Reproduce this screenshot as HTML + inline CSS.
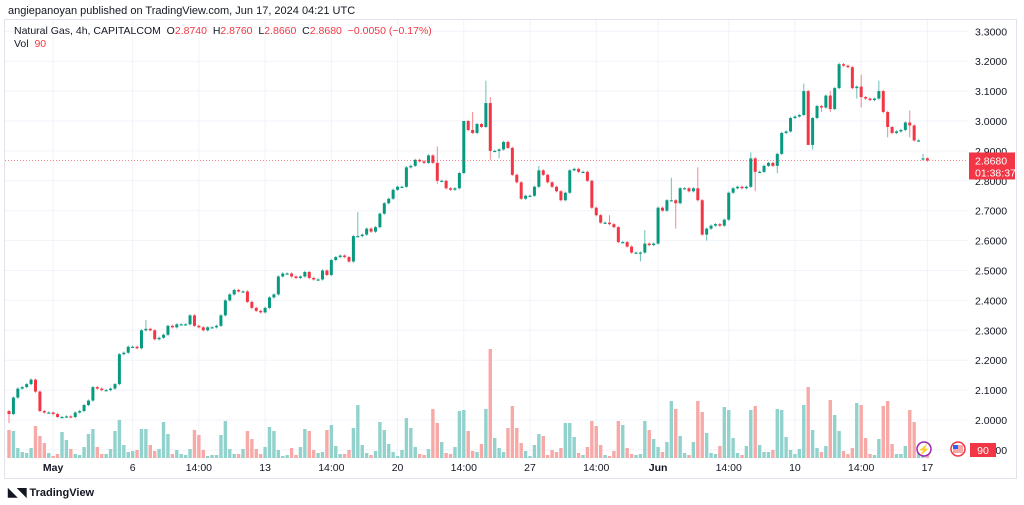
<!DOCTYPE html>
<html><head><meta charset="utf-8"><style>
body{margin:0;width:1024px;height:505px;background:#fff;overflow:hidden;font-family:"Liberation Sans",sans-serif;}
#wrap{position:relative;width:1024px;height:505px;}
.t{position:absolute;white-space:nowrap;}
</style></head><body><div id="wrap">
<div class="t" style="left:8px;top:5px;font-size:11px;color:#131722">angiepanoyan published on TradingView.com, Jun 17, 2024 04:21 UTC</div>
<svg id="chart" width="1024" height="505" style="position:absolute;left:0;top:0"></svg>
<div class="t" style="left:14px;top:25px;font-size:10.5px;color:#131722;background:rgba(255,255,255,0.7)">Natural Gas, 4h, CAPITALCOM&nbsp; O<span style="color:#f23645">2.8740</span>&nbsp; H<span style="color:#f23645">2.8760</span>&nbsp; L<span style="color:#f23645">2.8660</span>&nbsp; C<span style="color:#f23645">2.8680</span>&nbsp; <span style="color:#f23645">−0.0050 (−0.17%)</span></div>
<div class="t" style="left:14px;top:38px;font-size:10.5px;color:#131722">Vol&nbsp; <span style="color:#f23645">90</span></div>
<div class="t" style="left:8px;top:485px;font-size:11px;color:#131722;font-weight:bold"><span style="font-size:12px">◣◥</span> TradingView</div>
</div>
<script>
const closes=[2.02,2.075,2.105,2.11,2.12,2.135,2.095,2.03,2.025,2.025,2.02,2.01,2.01,2.012,2.01,2.025,2.03,2.05,2.065,2.11,2.105,2.10,2.10,2.105,2.12,2.22,
2.225,2.245,2.245,2.24,2.30,2.305,2.30,2.27,2.275,2.285,2.315,2.31,2.32,2.32,2.32,2.35,2.315,2.31,2.30,2.31,2.31,2.315,2.35,
2.40,2.42,2.435,2.43,2.43,2.395,2.375,2.365,2.36,2.375,2.41,2.42,2.48,2.49,2.49,2.48,2.475,2.48,2.495,2.475,2.47,2.47,2.50,2.485,2.535,
2.545,2.55,2.545,2.53,2.615,2.615,2.62,2.64,2.63,2.645,2.69,2.725,2.74,2.77,2.78,2.78,2.845,2.85,2.87,2.865,2.86,2.885,2.86,2.80,2.80,2.775,2.77,2.775,2.826,3.00,
2.97,2.96,2.99,2.98,3.06,2.90,2.90,2.905,2.93,2.91,2.82,2.795,2.74,2.75,2.75,2.78,2.835,2.82,2.795,2.78,2.765,2.735,2.76,2.835,2.84,2.83,2.83,2.80,2.71,2.685,2.66,2.66,2.655,2.645,2.595,2.595,2.58,2.56,2.56,2.56,2.59,
2.585,2.59,2.71,2.70,2.735,2.735,2.725,2.775,2.775,2.765,2.775,2.735,2.62,2.64,2.65,2.655,2.65,2.67,2.76,2.775,2.78,2.775,2.78,2.875,2.83,2.83,2.85,2.86,2.85,2.89,2.96,2.965,3.01,3.015,3.02,3.10,2.92,3.01,3.05,3.045,3.085,3.04,3.11,3.19,3.185,3.18,3.11,3.115,3.08,3.075,3.07,3.075,3.10,3.03,2.98,2.96,2.965,2.97,2.995,2.985,2.935,2.935,2.875,2.868];
const firstOpen=2.03;
const gapIdx=[207];
const gapOpen=[2.874];
const wickHighIdx=[31,79,97,103,105,108,109,120,136,144,150,156,168,180,186,188,193,197,204,207];
const wickHighVal=[2.335,2.695,2.915,3.00,3.03,3.135,3.08,2.85,2.685,2.635,2.81,2.845,2.895,3.125,3.10,3.195,3.155,3.135,3.035,2.89];
const wickLowIdx=[0,97,109,111,143,151,158,169,174,181,182,184,186,192,193,199,204];
const wickLowVal=[1.99,2.79,2.87,2.875,2.53,2.64,2.60,2.765,2.825,2.92,2.905,3.03,3.03,3.075,3.045,2.945,2.945];
const volumes=[28,27,10,6,5,10,32,22,15,5,2,4,26,18,9,4,3,11,24,29,11,4,4,9,27,38,13,6,7,8,29,29,13,7,9,36,24,4,8,4,3,9,28,23,8,2,3,3,23,37,9,4,4,9,27,19,9,4,11,31,27,8,2,3,10,3,11,29,27,8,5,6,28,
33,12,4,4,8,30,53,13,5,3,7,36,28,14,6,2,8,40,30,11,4,3,9,49,35,16,5,4,11,47,48,27,7,6,14,49,109,20,10,6,30,52,30,15,7,2,13,24,22,3,8,6,10,35,35,21,5,3,11,37,32,13,3,2,7,37,33,10,4,3,4,37,28,19,11,6,16,57,49,22,5,3,16,57,46,25,5,4,12,51,48,20,5,3,12,48,52,13,6,6,8,49,48,21,8,4,9,53,71,28,10,6,12,58,43,27,7,4,10,55,53,20,4,3,19,52,57,14,4,4,12,48,36,12,8,3];
const priceTicks=[3.3,3.2,3.1,3.0,2.9,2.8,2.7,2.6,2.5,2.4,2.3,2.2,2.1,2.0,1.9];
const timeLabels=["May","6","14:00","13","14:00","20","14:00","27","14:00","Jun","14:00","10","14:00","17"];
const timeIdx=[10,28,43,58,73,88,103,118,133,147,163,178,193,208];
const lastPrice=2.868;

const svg=document.getElementById('chart');
const NS='http://www.w3.org/2000/svg';
const X0=9,STEP=(923-9)/207;
const x=i=>X0+i*STEP;
const y=p=>420-(p-2.0)*299;
const yv=v=>458-v*1.0;
function mk(tag,attrs,parent){const e=document.createElementNS(NS,tag);for(const k in attrs)e.setAttribute(k,attrs[k]);(parent||svg).appendChild(e);return e;}

const grid=mk('g',{});


priceTicks.forEach(p=>{mk('line',{x1:5,x2:968,y1:y(p),y2:y(p),stroke:'#f0f3fa','stroke-width':1},grid);});
timeIdx.forEach(i=>{mk('line',{x1:x(i),x2:x(i),y1:20,y2:459,stroke:'#f0f3fa','stroke-width':1},grid);});
mk('rect',{x:4.5,y:19.5,width:1012,height:459,fill:'none',stroke:'#e0e3eb','stroke-width':1});

const opens=closes.map((c,i)=>{const g=gapIdx.indexOf(i);if(g>=0)return gapOpen[g];return i===0?firstOpen:closes[i-1];});
volumes.forEach((v,i)=>{if(i>=closes.length)return;
 const up=closes[i]>=opens[i];
 const r=mk('rect',{x:x(i)-1.7,y:yv(v),width:3.4,height:v,fill:up?'#92d2cc':'#f7a9a7'});
 
 
});

closes.forEach((c,i)=>{
 const o=opens[i],up=c>=o,col=up?'#089981':'#f23645';
 let hi=Math.max(o,c)+0.004,lo=Math.min(o,c)-0.004;
 const hk=wickHighIdx.indexOf(i);if(hk>=0)hi=wickHighVal[hk];
 const lk=wickLowIdx.indexOf(i);if(lk>=0)lo=wickLowVal[lk];
 const g=mk('g',{});
 
 
 mk('line',{x1:x(i),x2:x(i),y1:y(hi),y2:y(lo),stroke:col,'stroke-width':1,opacity:0.6},g);
 const top=y(Math.max(o,c)),h=Math.max(1.2,Math.abs(y(o)-y(c)));
 mk('rect',{x:x(i)-1.5,y:top,width:3,height:h,fill:col},g);
});

const pl=mk('line',{x1:5,x2:968,y1:y(lastPrice),y2:y(lastPrice),stroke:'#f23645','stroke-width':1,'stroke-dasharray':'1 2',opacity:0.6});



priceTicks.forEach(p=>{const t=mk('text',{x:975,y:y(p)+4,'font-size':10.5,fill:'#131722','font-family':'Liberation Sans, sans-serif'});t.textContent=p.toFixed(4);
 
 });
const pb=mk('g',{});


mk('rect',{x:969,y:y(lastPrice)-8,width:46,height:27,fill:'#f23645'},pb);
const t1=mk('text',{x:975,y:y(lastPrice)+4,'font-size':10.5,fill:'#fff','font-family':'Liberation Sans, sans-serif'},pb);t1.textContent=lastPrice.toFixed(4);
const t2=mk('text',{x:975,y:y(lastPrice)+16,'font-size':10.5,fill:'#fff','font-family':'Liberation Sans, sans-serif'},pb);t2.textContent='01:38:37';

timeLabels.forEach((l,k)=>{const t=mk('text',{x:x(timeIdx[k]),y:471,'font-size':10.5,fill:'#131722','text-anchor':'middle','font-weight':l==='May'||l==='Jun'?'bold':'normal','font-family':'Liberation Sans, sans-serif'});t.textContent=l;
 
 });

const ic=mk('g',{});


mk('circle',{cx:924,cy:449,r:7,fill:'#fff',stroke:'#9c27b0','stroke-width':1.5},ic);
const lt=mk('text',{x:924,y:453,'font-size':10,fill:'#9c27b0','text-anchor':'middle'},ic);lt.textContent='⚡';
const fl=mk('g',{});


mk('circle',{cx:958,cy:449,r:7,fill:'#fff',stroke:'#f23645','stroke-width':1.5},fl);
mk('rect',{x:953,y:445,width:10,height:8,fill:'#f7a9a7'},fl);
mk('rect',{x:953,y:445,width:5,height:4,fill:'#2962ff'},fl);
const vb=mk('g',{});


mk('rect',{x:970,y:443,width:26,height:14,fill:'#f23645'},vb);
const vt=mk('text',{x:983,y:454,'font-size':10.5,fill:'#fff','text-anchor':'middle','font-family':'Liberation Sans, sans-serif'},vb);vt.textContent='90';
</script></body></html>
